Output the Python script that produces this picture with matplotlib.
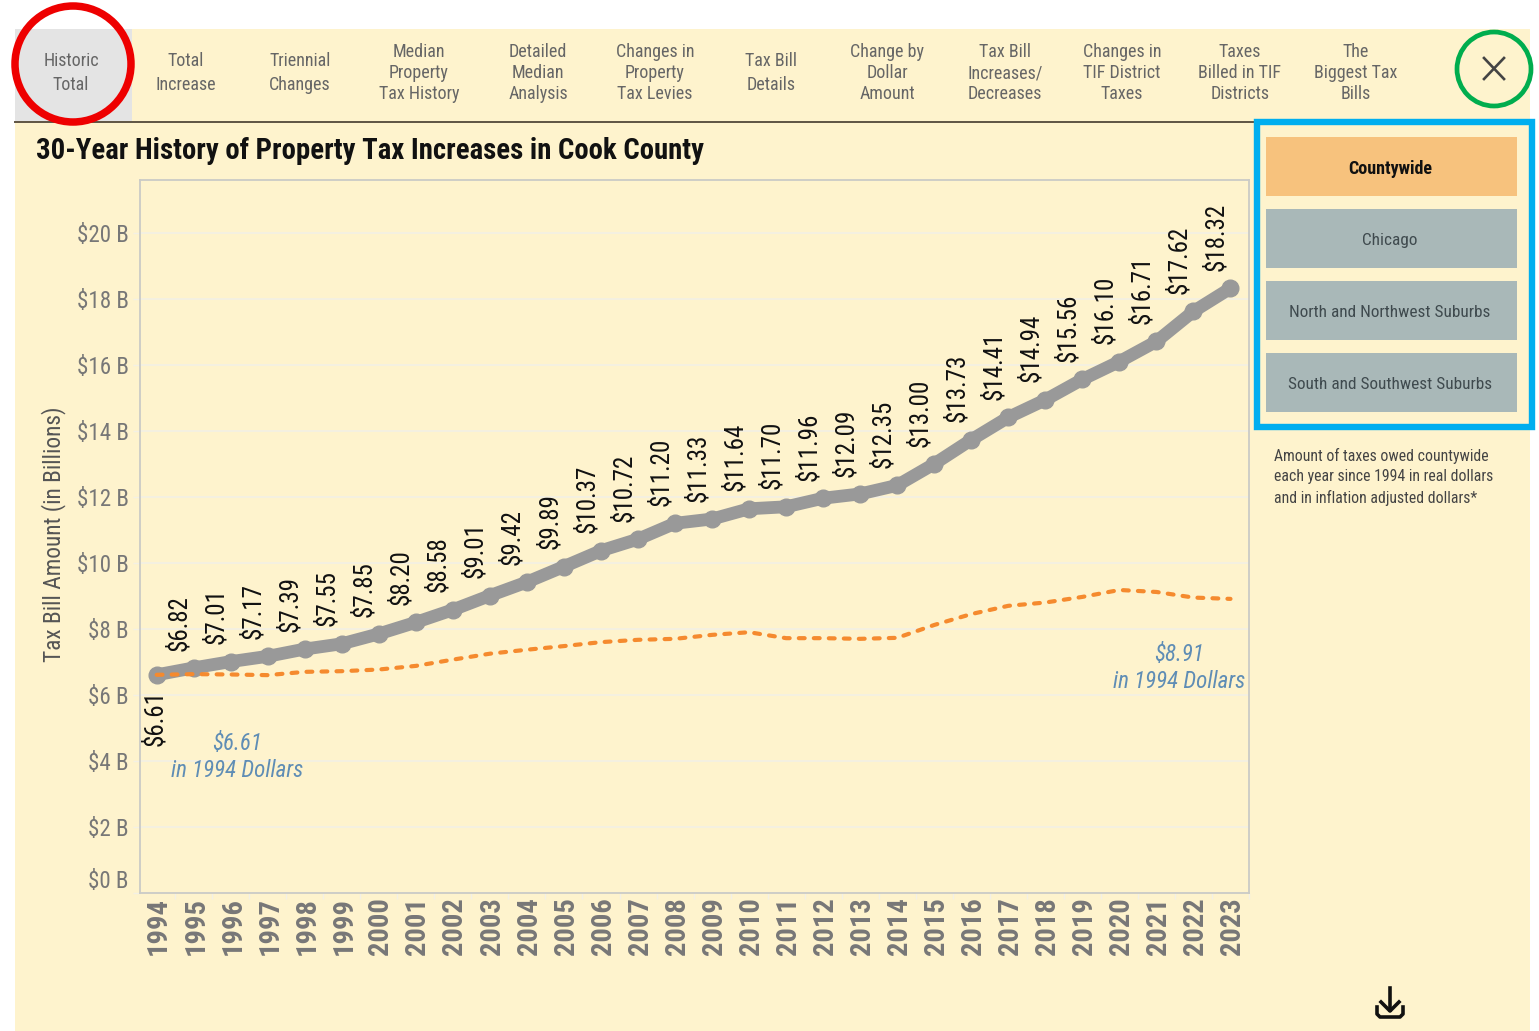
import matplotlib
matplotlib.use("Agg")
import matplotlib.pyplot as plt
from matplotlib.patches import Rectangle, Ellipse
from matplotlib.transforms import ScaledTranslation

W, H = 1539, 1031
CREAM = "#FEF3CD"
FONT = ["Roboto Condensed", "Roboto", "DejaVu Sans"]

years = list(range(1994, 2024))
tax_billed = [6.61, 6.82, 7.01, 7.17, 7.39, 7.55, 7.85, 8.20, 8.58, 9.01,
              9.42, 9.89, 10.37, 10.72, 11.20, 11.33, 11.64, 11.70, 11.96, 12.09,
              12.35, 13.00, 13.73, 14.41, 14.94, 15.56, 16.10, 16.71, 17.62, 18.32]
tax_1994_dollars = [6.61, 6.63, 6.62, 6.60, 6.70, 6.72, 6.77, 6.88, 7.07, 7.25,
                    7.37, 7.48, 7.60, 7.67, 7.70, 7.82, 7.90, 7.72, 7.72, 7.70,
                    7.73, 8.12, 8.45, 8.70, 8.80, 8.97, 9.18, 9.12, 8.95, 8.91]
y_ticks = [0, 2, 4, 6, 8, 10, 12, 14, 16, 18, 20]
y_tick_labels = ["$0 B", "$2 B", "$4 B", "$6 B", "$8 B", "$10 B", "$12 B",
                 "$14 B", "$16 B", "$18 B", "$20 B"]

tab_labels = ["Historic\nTotal", "Total\nIncrease", "Triennial\nChanges",
              "Median\nProperty\nTax History", "Detailed\nMedian\nAnalysis",
              "Changes in\nProperty\nTax Levies", "Tax Bill\nDetails",
              "Change by\nDollar\nAmount", "Tax Bill\nIncreases/\nDecreases",
              "Changes in\nTIF District\nTaxes", "Taxes\nBilled in TIF\nDistricts",
              "The\nBiggest Tax\nBills"]
tab_x = [71, 186, 300, 419, 538, 655, 771, 887, 1005, 1122, 1240, 1356]
button_labels = ["Countywide", "Chicago", "North and Northwest Suburbs",
                 "South and Southwest Suburbs"]
button_y = [137, 209, 281, 353]


def draw_page(ui):
    # kremowe tlo strony i zakladki
    ui.add_patch(Rectangle((15, 29), 1515, 1002, fc=CREAM, ec="none", zorder=0))
    ui.add_patch(Rectangle((15, 29), 117, 92, fc="#E4E4E4", ec="none", zorder=1))
    ui.plot([15, 1256], [122, 122], color="#5E5444", lw=1.4, zorder=1)

    for x, label in zip(tab_x, tab_labels):
        n_lines = label.count("\n") + 1
        ui.text(x, 73, label, ha="center", va="center", fontsize=13, color="#666666",
                linespacing=1.2 if n_lines == 3 else 1.38, family=FONT, zorder=3)

    ui.text(36, 151, "30-Year History of Property Tax Increases in Cook County",
            ha="left", va="center", fontsize=20.7, fontweight="bold", color="#111111",
            family=FONT, zorder=3)

    # przyciski po prawej
    for i, (y, label) in enumerate(zip(button_y, button_labels)):
        color = "#F7C27D" if i == 0 else "#A9B8B8"
        ui.add_patch(Rectangle((1266, y), 251, 59, fc=color, ec="none", zorder=1))
        ui.text(1390, y + 31.5, label, ha="center", va="center",
                fontsize=13 if i == 0 else 12.4,
                fontweight="bold" if i == 0 else "normal",
                color="#111111" if i == 0 else "#3F4A4E", family=FONT, zorder=3)

    ui.text(1274, 477, "Amount of taxes owed countywide\neach year since 1994 in real dollars\n"
            "and in inflation adjusted dollars*", ha="left", va="center", fontsize=11.35,
            color="#444444", linespacing=1.4, family=FONT, zorder=3)

    # krzyzyk zamykania
    ui.plot([1484, 1504], [58, 79], color="#444444", lw=1.9, zorder=3)
    ui.plot([1484, 1504], [79, 58], color="#444444", lw=1.9, zorder=3)

    # ikona pobierania
    ui.plot([1390, 1390], [988, 1010], color="#111111", lw=2.6, zorder=3)
    ui.plot([1381, 1390, 1399], [1002, 1011, 1002], color="#111111", lw=2.6, zorder=3)
    ui.plot([1377, 1377, 1380, 1400, 1403, 1403], [1007, 1014, 1017, 1017, 1014, 1007],
            color="#111111", lw=2.6, zorder=3)

    # obwodki wyrozniajace
    ui.add_patch(Ellipse((73, 64), 116, 116, fc="none", ec="#EE0000", lw=5.4, zorder=4))
    ui.add_patch(Ellipse((1494, 69), 74, 74, fc="none", ec="#00AD4E", lw=3.4, zorder=4))
    ui.add_patch(Rectangle((1257, 122), 275, 305, fc="none", ec="#00AEEF", lw=4.6, zorder=4))


def draw_chart(ax, fig):
    ax.set_facecolor(CREAM)
    ax.plot(years, tax_billed, color="#999999", lw=9.2, marker="o", ms=12,
            solid_capstyle="round", zorder=3)
    ax.plot(years, tax_1994_dollars, color="#F58A2E", lw=3, dashes=(1.4, 2.2),
            dash_capstyle="round", zorder=4)

    for i, (year, value) in enumerate(zip(years, tax_billed)):
        if i == 0:
            offset, va = (-1.5, -11), "top"
        else:
            offset, va = (-10.5, 12.5), "bottom"
        ax.annotate(f"${value:.2f}", (year, value), xytext=offset, textcoords="offset points",
                    rotation=90, ha="center", va=va, fontsize=18, color="#111111",
                    family=FONT, zorder=5)

    ax.set_xlim(1993.55, 2023.5)
    ax.set_ylim(0, 21.6)
    ax.set_xticks(years)
    ax.set_xticklabels(years, rotation=90, fontsize=20.5, fontweight="bold",
                       color="#777777", family=FONT)
    ax.set_xticks([y + 0.5 for y in years], minor=True)
    ax.tick_params(axis="x", which="major", length=0, pad=3)
    ax.tick_params(axis="x", which="minor", length=4, width=1, color="#F3F0E5")
    shift = ScaledTranslation(1.5 / 72, 0, fig.dpi_scale_trans)
    for label in ax.get_xticklabels():
        label.set_transform(label.get_transform() + shift)

    ax.set_yticks(y_ticks)
    ax.set_yticklabels(y_tick_labels, fontsize=16.6, color="#777777", family=FONT)
    ax.get_yticklabels()[0].set_va("bottom")
    ax.tick_params(axis="y", length=5, width=1, color="#F3F0E5", pad=3)
    ax.grid(axis="y", color="#F3F0E5", lw=1.2)
    ax.set_axisbelow(True)
    ax.set_ylabel("Tax Bill Amount (in Billions)", fontsize=16.8, color="#555555",
                  family=FONT)
    ax.yaxis.set_label_coords(-0.067, 0.503)

    for spine in ax.spines.values():
        spine.set_color("#CBCBC6")
        spine.set_linewidth(1.3)


def draw_notes(ui):
    blue = "#5F8DB5"
    ui.text(237, 757, "$6.61\nin 1994 Dollars", ha="center", va="center", fontsize=16.6,
            style="italic", color=blue, linespacing=1.25, family=FONT, zorder=6)
    ui.text(1179, 668, "$8.91\nin 1994 Dollars", ha="center", va="center", fontsize=16.6,
            style="italic", color=blue, linespacing=1.25, family=FONT, zorder=6)


def main():
    fig = plt.figure(figsize=(W / 100, H / 100), dpi=100, facecolor="white")

    ui = fig.add_axes([0, 0, 1, 1], zorder=1)
    ui.set_xlim(0, W)
    ui.set_ylim(H, 0)
    ui.axis("off")
    draw_page(ui)

    left, right, top, bottom = 140, 1249, 180, 893
    ax = fig.add_axes([left / W, 1 - bottom / H, (right - left) / W, (bottom - top) / H], zorder=2)
    draw_chart(ax, fig)

    notes = fig.add_axes([0, 0, 1, 1], zorder=3)
    notes.set_xlim(0, W)
    notes.set_ylim(H, 0)
    notes.axis("off")
    notes.patch.set_alpha(0)
    draw_notes(notes)

    fig.savefig("out.png", dpi=100)
    plt.close(fig)


if __name__ == "__main__":
    main()
